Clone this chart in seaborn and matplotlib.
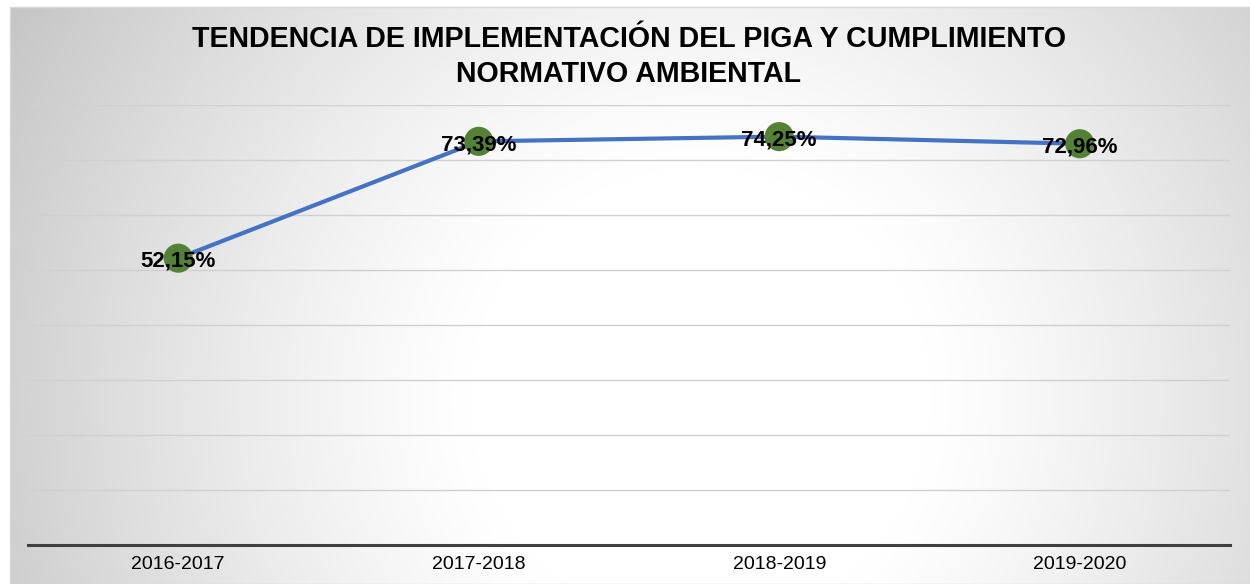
import numpy as np
import matplotlib
matplotlib.use("Agg")
import matplotlib.pyplot as plt
import seaborn as sns

# datos del gráfico
periodos = ["2016-2017", "2017-2018", "2018-2019", "2019-2020"]
valores = [52.15, 73.39, 74.25, 72.96]
etiquetas = ["52,15%", "73,39%", "74,25%", "72,96%"]

sns.set_theme(style="white")
plt.rcParams['font.family'] = ['Liberation Sans', 'DejaVu Sans']

W, H = 1250, 584
fig = plt.figure(figsize=(W / 100, H / 100), dpi=100)
fig.patch.set_facecolor("white")

# fondo con degradado radial (blanco al centro, gris en los bordes)
bg = fig.add_axes([10 / W, 0, 1 - 10 / W, (H - 7) / H], zorder=0)
yy, xx = np.mgrid[0:577, 0:1240]
d = np.sqrt((xx - 690) ** 2 + (yy - 390) ** 2)
t = np.clip((d - 230) / 570, 0, 1)
g = 1 - 0.23 * t ** 1.2
bg.imshow(np.dstack([g, g, g]), aspect="auto", extent=[0, 1, 0, 1], origin="upper")
bg.set_xticks([])
bg.set_yticks([])
for s in bg.spines.values():
    s.set_color("#d9d9d9")
    s.set_linewidth(1)

ax = fig.add_axes([28 / W, (H - 545) / H, (1230 - 28) / W, (545 - 105) / H], zorder=1)
ax.patch.set_alpha(0)

sns.lineplot(x=periodos, y=valores, ax=ax, color="#4472C4", linewidth=3, zorder=2)
sns.scatterplot(x=periodos, y=valores, ax=ax, color="#548235", s=440, edgecolor="none", zorder=3)

for i, (v, t) in enumerate(zip(valores, etiquetas)):
    ax.text(i, v - 0.6, t, ha="center", va="center", fontsize=16, fontweight="bold", color="black", zorder=4)

ax.set_xlim(-0.5, 3.5)
ax.set_ylim(0, 80)
ax.set_yticks(np.arange(0, 81, 10))
ax.set_yticklabels([])
ax.yaxis.grid(True, color="#d0d0d0", linewidth=1)
ax.set_axisbelow(True)
ax.tick_params(axis="both", length=0)
ax.tick_params(axis="x", labelsize=14, colors="black", pad=8)
for s in ["top", "left", "right"]:
    ax.spines[s].set_visible(False)
ax.spines["bottom"].set_color("#404040")
ax.spines["bottom"].set_linewidth(2.2)
ax.set_xlabel("")
ax.set_ylabel("")

fig.text(629 / W, 1 - 56.5 / H, "TENDENCIA DE IMPLEMENTACIÓN DEL PIGA Y CUMPLIMIENTO\nNORMATIVO AMBIENTAL",
         ha="center", va="center", fontsize=20.6, fontweight="bold", color="black",
         linespacing=1.35, zorder=5)

fig.savefig("out.png", dpi=100)
